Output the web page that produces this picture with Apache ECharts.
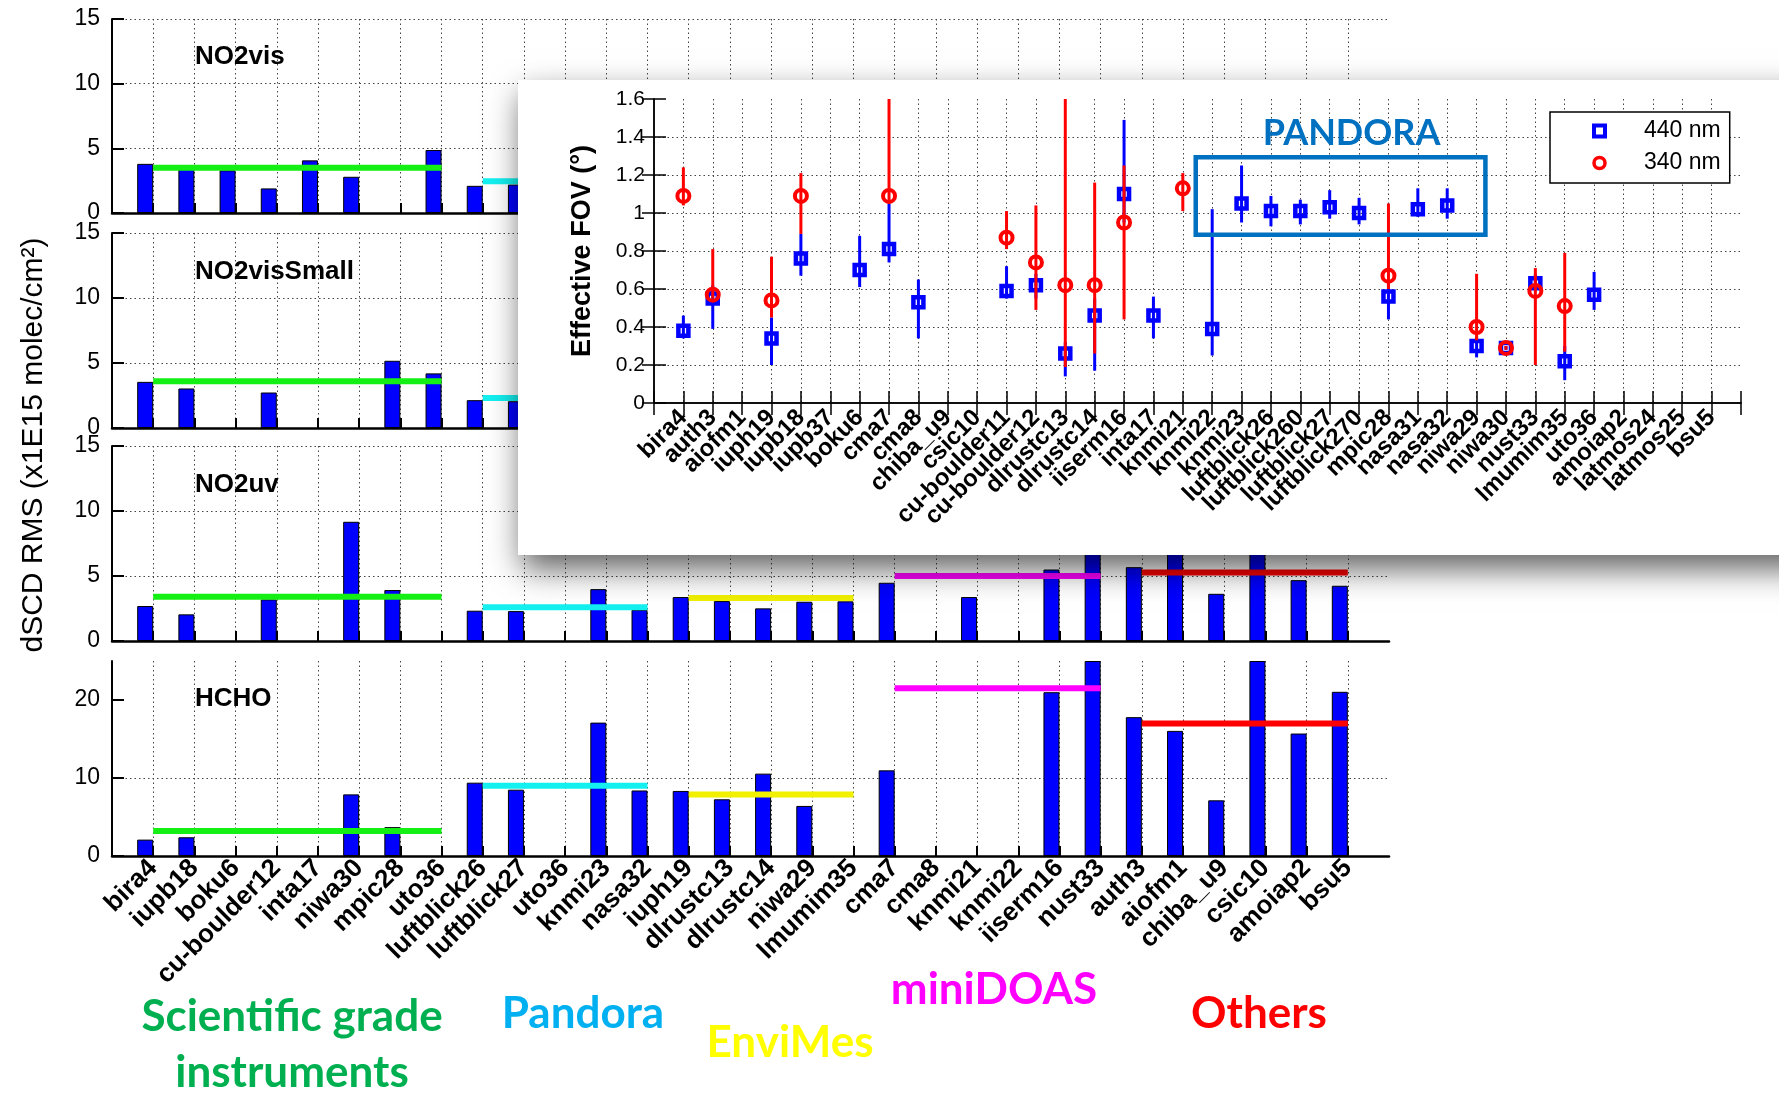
<!DOCTYPE html>
<html>
<head>
<meta charset="utf-8">
<script src="https://cdn.jsdelivr.net/npm/echarts@6.0.0/dist/echarts.min.js"></script>
<style>
html,body{margin:0;padding:0;background:#fff;}
#chart{width:1779px;height:1093px;}
</style>
</head>
<body>
<div id="chart"></div>
<script>
// ---------------- DATA ----------------
const mainCategories = ['bira4','iupb18','boku6','cu-boulder12','inta17','niwa30','mpic28','uto36',
  'luftblick26','luftblick27','uto36','knmi23','nasa32','iuph19','dlrustc13','dlrustc14','niwa29',
  'lmumim35','cma7','cma8','knmi21','knmi22','iiserm16','nust33','auth3','aiofm1','chiba_u9','csic10',
  'amoiap2','bsu5'];

// dSCD RMS (x1E15 molec/cm2); null = no bar / hidden under the inset
const no2vis      = [3.8, 3.4, 3.3, 1.9, 4.07, 2.8, null, 4.87, 2.1, 2.2,
                     null, null, null, null, null, null, null, null, null, null,
                     null, null, null, null, null, null, null, null, null, null];
const no2visSmall = [3.55, 3.04, null, 2.73, null, null, 5.17, 4.2, 2.14, 2.06,
                     null, null, null, null, null, null, null, null, null, null,
                     null, null, null, null, null, null, null, null, null, null];
const no2uv       = [2.69, 2.05, null, 3.2, null, 9.17, 3.92, null, 2.33, 2.3,
                     null, 3.99, 2.4, 3.38, 3.07, 2.51, 3.02, 3.05, 4.48, null,
                     3.38, null, 5.5, 7.0, 5.68, 6.8, 3.63, 6.8, 4.68, 4.25];
const hcho        = [2.1, 2.4, null, null, null, 7.9, 3.7, null, 9.4, 8.5,
                     null, 17.1, 8.4, 8.34, 7.27, 10.56, 6.42, null, 10.98, null,
                     null, null, 21.0, 25, 17.8, 16.04, 7.14, 25, 15.7, 21.05];

// instrument groups (1-based category positions) and group mean values per product
const groupNames = ['Scientific grade instruments', 'Pandora', 'EnviMes', 'miniDOAS', 'Others'];
const groupFirst = [1, 9, 14, 19, 25];
const groupLast  = [8, 13, 18, 24, 30];
const meanNo2vis      = [3.5, 2.45, null, null, null];
const meanNo2visSmall = [3.6, 2.3, null, null, null];
const meanNo2uv       = [3.4, 2.6, 3.3, 5.0, 5.27];
const meanHcho        = [3.2, 9.0, 7.9, 21.5, 17.0];

// inset: effective FOV (deg)
const insetCategories = ['bira4','auth3','aiofm1','iuph19','iupb18','iupb37','boku6','cma7','cma8',
  'chiba_u9','csic10','cu-boulder11','cu-boulder12','dlrustc13','dlrustc14','iiserm16','inta17',
  'knmi21','knmi22','knmi23','luftblick26','luftblick260','luftblick27','luftblick270','mpic28',
  'nasa31','nasa32','niwa29','niwa30','nust33','lmumim35','uto36','amoiap2','latmos24','latmos25','bsu5'];
const fov440     = [0.38, 0.55, null, 0.34, 0.76, null, 0.70, 0.81, 0.53, null, null, 0.59,
                    0.62, 0.26, 0.46, 1.10, 0.46, null, 0.39, 1.05, 1.01, 1.01, 1.03, 1.00,
                    0.56, 1.02, 1.04, 0.30, 0.29, 0.63, 0.22, 0.57, null, null, null, null];
const fov440Low  = [0.34, 0.39, null, 0.20, 0.67, null, 0.61, 0.74, 0.34, null, null, 0.55,
                    0.55, 0.14, 0.17, 0.95, 0.34, null, 0.25, 0.95, 0.93, 0.94, 0.97, 0.94,
                    0.44, 0.98, 0.97, 0.24, 0.28, 0.60, 0.12, 0.49, null, null, null, null];
const fov440High = [0.46, 0.62, null, 0.45, 0.89, null, 0.88, 1.05, 0.65, null, null, 0.72,
                    0.68, 0.32, 0.55, 1.49, 0.56, null, 1.02, 1.25, 1.09, 1.07, 1.12, 1.08,
                    0.64, 1.13, 1.13, 0.35, 0.30, 0.68, 0.30, 0.69, null, null, null, null];
const fov340     = [1.09, 0.57, null, 0.54, 1.09, null, null, 1.09, null, null, null, 0.87,
                    0.74, 0.62, 0.62, 0.95, null, 1.13, null, null, null, null, null, null,
                    0.67, null, null, 0.40, 0.29, 0.59, 0.51, null, null, null, null, null];
const fov340Low  = [1.04, 0.55, null, 0.45, 0.89, null, null, 1.05, null, null, null, 0.81,
                    0.49, 0.19, 0.26, 0.44, null, 1.01, null, null, null, null, null, null,
                    0.60, null, null, 0.33, 0.28, 0.20, 0.27, null, null, null, null, null];
const fov340High = [1.24, 0.81, null, 0.77, 1.21, null, null, 1.60, null, null, null, 1.01,
                    1.04, 1.60, 1.16, 1.25, null, 1.21, null, null, null, null, null, null,
                    1.05, null, null, 0.68, 0.30, 0.71, 0.79, null, null, null, null, null];
// PANDORA annotation box on the inset (x in category positions, y in deg)
const pandoraBoxX = [18.44, 28.3];
const pandoraBoxY = [0.885, 1.293];

// ---------------- BUILD ----------------
const FONT = '"Liberation Sans", Arial, Helvetica, sans-serif';
const LABEL_FONT = 'Lato, "Open Sans", sans-serif';
const groupColors = ['#14f014', '#14f0f0', '#f0f000', '#ff00ff', '#ff0000'];
const axisCats = [''].concat(mainCategories, ['']);
const lastIdx = axisCats.length - 1;
const innerIdx = (idx) => idx > 0 && idx < lastIdx;
const dotted = { color: '#444', width: 1, type: [1.5, 3] };

const panels = [
  { title: 'NO2vis', values: no2vis, means: meanNo2vis, max: 15, interval: 5 },
  { title: 'NO2visSmall', values: no2visSmall, means: meanNo2visSmall, max: 15, interval: 5 },
  { title: 'NO2uv', values: no2uv, means: meanNo2uv, max: 15, interval: 5 },
  { title: 'HCHO', values: hcho, means: meanHcho, max: 25, interval: 10 }
];
const gridTops = [19, 233, 446, 661];
const gridHeights = [194, 195, 195, 195];
const titleY = [57, 272, 485, 699];

const grids = [], xAxes = [], yAxes = [], series = [], graphics = [];

panels.forEach((p, i) => {
  grids.push({ left: 112, top: gridTops[i], width: 1277, height: gridHeights[i] });
  xAxes.push({
    gridIndex: i, type: 'category', data: axisCats, boundaryGap: false,
    axisLine: { show: true, lineStyle: { color: '#000', width: 2.5 } },
    axisTick: { show: true, inside: true, length: 10, interval: innerIdx, lineStyle: { color: '#000', width: 2 } },
    axisLabel: { show: i === 3, interval: 0, rotate: 45, fontSize: 26, fontWeight: 'bold',
      color: '#000', fontFamily: FONT, margin: 8 },
    splitLine: { show: true, interval: innerIdx, lineStyle: dotted }
  });
  const fullTicks = p.max % p.interval === 0;
  const tickVals = [];
  for (let v = 0; v <= p.max; v += p.interval) tickVals.push(v);
  yAxes.push({
    gridIndex: i, type: 'value', min: 0, max: p.max, interval: p.interval,
    axisLine: { show: true, lineStyle: { color: '#000', width: 2 } },
    axisTick: { show: true, inside: true, length: 12, customValues: tickVals, lineStyle: { color: '#000', width: 2 } },
    axisLabel: { fontSize: 23, color: '#000', fontFamily: FONT, margin: 12, showMaxLabel: fullTicks },
    splitLine: { show: true, showMinLine: false, showMaxLine: fullTicks, lineStyle: dotted }
  });
  series.push({
    type: 'bar', xAxisIndex: i, yAxisIndex: i, barWidth: 16, barGap: '0%', z: 2,
    data: ['-'].concat(p.values.map(v => v == null ? '-' : v), ['-']),
    itemStyle: { color: '#0000ff', borderColor: '#000', borderWidth: 1 },
    silent: true
  });
  series.push({
    type: 'bar', xAxisIndex: i, yAxisIndex: i, barWidth: 16, barGap: '0%',
    data: axisCats.map(() => '-'), silent: true
  });
  p.means.forEach((m, g) => {
    if (m == null) return;
    series.push({
      type: 'line', xAxisIndex: i, yAxisIndex: i, z: 3, silent: true, symbol: 'none',
      name: groupNames[g],
      data: axisCats.map((_, k) => (k >= groupFirst[g] && k <= groupLast[g]) ? m : '-'),
      lineStyle: { color: groupColors[g], width: 6 }
    });
  });
  graphics.push({
    type: 'text', x: 195, y: titleY[i], z: 5,
    style: { text: p.title, fontSize: 26, fontWeight: 'bold', fontFamily: FONT, fill: '#000',
      align: 'left', verticalAlign: 'middle' }
  });
});

// main y-axis name
graphics.push({
  type: 'text', x: 34, y: 445, rotation: Math.PI / 2, z: 5,
  style: { text: 'dSCD RMS (x1E15 molec/cm²)', fontSize: 30, fontFamily: FONT, fill: '#000',
    align: 'center', verticalAlign: 'middle' }
});

// group labels
const groupLabelPos = [[292, 1045], [583, 1014], [790, 1043], [994, 990], [1259, 1014]];
const groupLabelText = ['Scientific grade\ninstruments', 'Pandora', 'EnviMes', 'miniDOAS', 'Others'];
const groupLabelColor = ['#00b050', '#00b0f0', '#ffff00', '#ff00ff', '#ff0000'];
groupLabelText.forEach((t, g) => {
  graphics.push({
    type: 'text', x: groupLabelPos[g][0], y: groupLabelPos[g][1], z: 5,
    style: { text: t, fontSize: 44, fontWeight: 'bold', fontFamily: LABEL_FONT, fill: groupLabelColor[g],
      align: 'center', verticalAlign: 'middle', lineHeight: 56 }
  });
});

// inset white panel with drop shadow
graphics.push({
  type: 'rect', z: 50,
  shape: { x: 518, y: 80, width: 1320, height: 475 },
  style: { fill: '#fff', shadowBlur: 30, shadowOffsetX: 4, shadowOffsetY: 14, shadowColor: 'rgba(0,0,0,0.62)' }
});

// ---------------- INSET ----------------
const IG = 4;
grids.push({ left: 654, top: 99, width: 1087, height: 304 });
const insetAxisLine = { show: true, lineStyle: { color: '#000', width: 1.5 } };
const insetTick = { show: true, inside: true, length: 12, lineStyle: { color: '#000', width: 1.5 } };
xAxes.push({
  gridIndex: IG, type: 'value', min: 0, max: 37, interval: 1, position: 'bottom', z: 60,
  axisLine: insetAxisLine, axisTick: insetTick,
  axisLabel: { formatter: v => insetCategories[Math.round(v) - 1] || '', rotate: 45, fontSize: 24,
    fontWeight: 'bold', color: '#000', fontFamily: FONT, margin: 11 },
  splitLine: { show: true, showMinLine: false, showMaxLine: false, lineStyle: dotted }
});
xAxes.push({
  gridIndex: IG, type: 'value', min: 0, max: 37, interval: 1, position: 'top', z: 60,
  axisLine: insetAxisLine, axisTick: insetTick, axisLabel: { show: false }, splitLine: { show: false }
});
yAxes.push({
  gridIndex: IG, type: 'value', min: 0, max: 1.6, interval: 0.2, position: 'left', z: 60,
  axisLine: insetAxisLine, axisTick: insetTick,
  axisLabel: { fontSize: 21, color: '#000', fontFamily: FONT, margin: 9 },
  name: 'Effective FOV (°)', nameLocation: 'middle', nameGap: 58,
  nameTextStyle: { fontSize: 27, fontWeight: 'bold', color: '#000', fontFamily: FONT },
  splitLine: { show: true, showMinLine: false, showMaxLine: false, lineStyle: dotted }
});
yAxes.push({
  gridIndex: IG, type: 'value', min: 0, max: 1.6, interval: 0.2, position: 'right', z: 60,
  axisLine: insetAxisLine, axisTick: insetTick, axisLabel: { show: false }, splitLine: { show: false }
});

function errData(lo, hi) {
  const out = [];
  lo.forEach((l, k) => { if (l != null && hi[k] != null) out.push([k + 1, l, hi[k]]); });
  return out;
}
function ptData(vals) {
  const out = [];
  vals.forEach((v, k) => { if (v != null) out.push([k + 1, v]); });
  return out;
}
function errSeries(name, lo, hi, color, z) {
  return {
    type: 'custom', name: name, xAxisIndex: IG, yAxisIndex: IG, z: z, silent: true,
    data: errData(lo, hi), encode: { x: 0, y: [1, 2] },
    renderItem: (params, api) => {
      const a = api.coord([api.value(0), api.value(1)]);
      const b = api.coord([api.value(0), api.value(2)]);
      return { type: 'line', shape: { x1: a[0], y1: a[1], x2: b[0], y2: b[1] },
        style: { stroke: color, lineWidth: 3 } };
    }
  };
}
series.push(errSeries('440 err', fov440Low, fov440High, '#0000ff', 61));
series.push({
  type: 'scatter', name: '440 nm', xAxisIndex: IG, yAxisIndex: IG, z: 62, silent: true,
  data: ptData(fov440), symbol: 'rect', symbolSize: 10,
  itemStyle: { color: 'rgba(255,255,255,0)', borderColor: '#0000ff', borderWidth: 4.5, opacity: 1 },
  markArea: {
    silent: true, z: 70,
    itemStyle: { color: 'rgba(0,0,0,0)', borderColor: '#0070c0', borderWidth: 4.5 },
    label: { show: true, position: 'top', distance: 4, offset: [11, 0], formatter: 'PANDORA',
      fontSize: 36, fontWeight: 'bold', color: '#0070c0', fontFamily: LABEL_FONT },
    data: [[{ xAxis: pandoraBoxX[0], yAxis: pandoraBoxY[1] }, { xAxis: pandoraBoxX[1], yAxis: pandoraBoxY[0] }]]
  }
});
series.push(errSeries('340 err', fov340Low, fov340High, '#ff0000', 63));
series.push({
  type: 'scatter', name: '340 nm', xAxisIndex: IG, yAxisIndex: IG, z: 64, silent: true,
  data: ptData(fov340), symbol: 'circle', symbolSize: 12,
  itemStyle: { color: 'rgba(255,255,255,0)', borderColor: '#ff0000', borderWidth: 4, opacity: 1 }
});

const option = {
  backgroundColor: '#fff',
  animation: false,
  grid: grids,
  xAxis: xAxes,
  yAxis: yAxes,
  series: series,
  graphic: graphics,
  legend: {
    z: 70, left: 1550, top: 112, orient: 'vertical', selectedMode: false,
    padding: [7, 9, 8, 42], itemGap: 8, itemWidth: 11, itemHeight: 11,
    backgroundColor: '#fff', borderColor: '#000', borderWidth: 1.5, borderRadius: 0,
    textStyle: { fontSize: 23, color: '#000', fontFamily: FONT, lineHeight: 24, padding: [0, 0, 0, 34] },
    data: [
      { name: '440 nm', icon: 'rect', itemStyle: { color: 'rgba(255,255,255,0)', borderColor: '#0000ff', borderWidth: 4 } },
      { name: '340 nm', icon: 'circle', itemStyle: { color: 'rgba(255,255,255,0)', borderColor: '#ff0000', borderWidth: 3.5 } }
    ]
  }
};

const chart = echarts.init(document.getElementById('chart'), null, { renderer: 'canvas' });
chart.setOption(option);
</script>
</body>
</html>
